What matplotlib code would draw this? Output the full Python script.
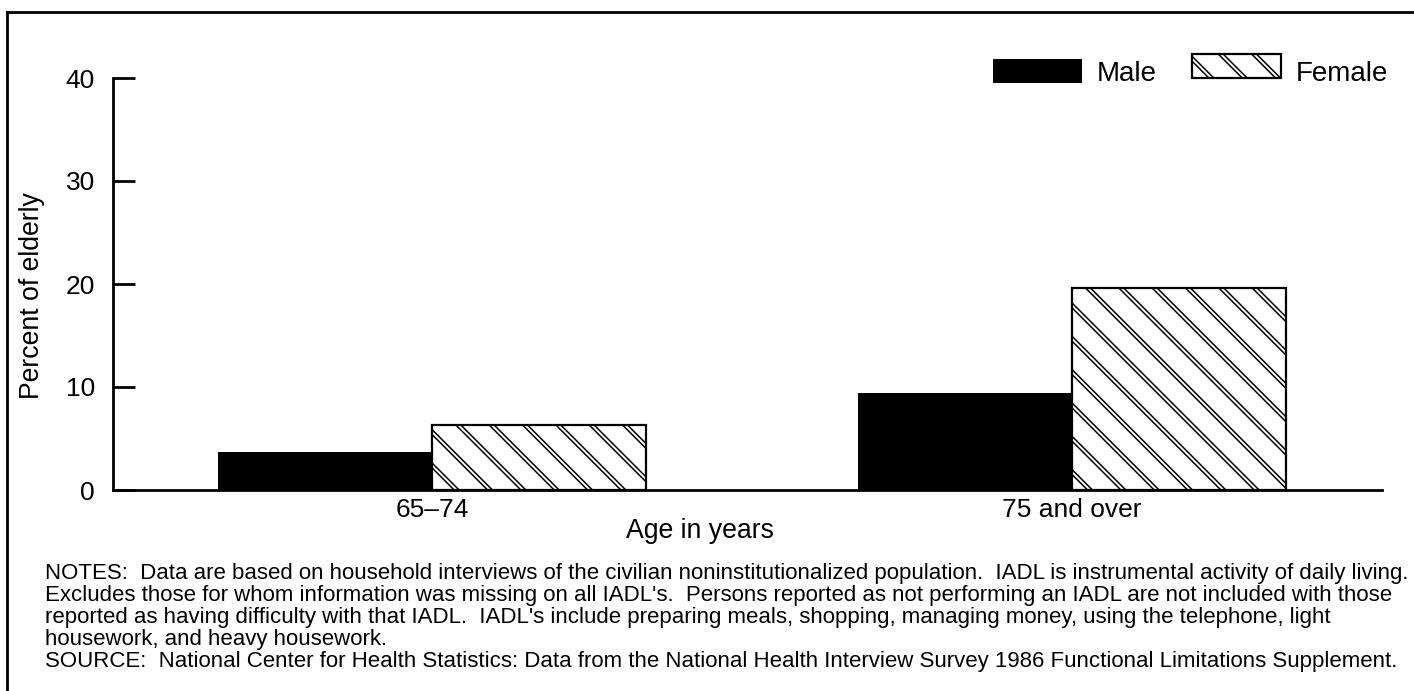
import matplotlib
matplotlib.use("Agg")
import matplotlib.pyplot as plt
from matplotlib.patches import Rectangle, Patch
from matplotlib.lines import Line2D
import numpy as np

# ---- data ----
categories = ["65\u201374", "75 and over"]
series_names = ["Male", "Female"]
male_values = [3.7, 9.4]
female_values = [6.3, 19.6]
y_ticks = [0, 10, 20, 30, 40]

notes_lines = [
    "NOTES:  Data are based on household interviews of the civilian noninstitutionalized population.  IADL is instrumental activity of daily living.",
    "Excludes those for whom information was missing on all IADL's.  Persons reported as not performing an IADL are not included with those",
    "reported as having difficulty with that IADL.  IADL's include preparing meals, shopping, managing money, using the telephone, light",
    "housework, and heavy housework.",
]
source_line = "SOURCE:  National Center for Health Statistics: Data from the National Health Interview Survey 1986 Functional Limitations Supplement."

plt.rcParams['font.family'] = ['Liberation Sans', 'DejaVu Sans']

W, H, DPI = 1414, 691, 200
fig = plt.figure(figsize=(W / DPI, H / DPI), dpi=DPI)

def fx(px):
    return px / W

def fy(py):
    return 1 - py / H

ax = fig.add_axes([fx(113), fy(490), fx(1382) - fx(113), fy(78) - fy(490)])

def set_hlw(p, w):
    if hasattr(p, "set_hatch_linewidth"):
        p.set_hatch_linewidth(w)
    else:
        p._hatch_linewidth = w

BLACK_HLW = 1.8
WHITE_HLW = 0.7
HATCH = "\\\\"

x = np.arange(len(categories))
bw = 0.334

ax.bar(x - bw / 2, male_values, width=bw, color="black", linewidth=0)

b1 = ax.bar(x + bw / 2, female_values, width=bw, facecolor="white",
            edgecolor="black", linewidth=0, hatch=HATCH)
for p in b1:
    set_hlw(p, BLACK_HLW)
b2 = ax.bar(x + bw / 2, female_values, width=bw, facecolor="none",
            edgecolor="white", linewidth=0, hatch=HATCH)
for p in b2:
    set_hlw(p, WHITE_HLW)
ax.bar(x + bw / 2, female_values, width=bw, facecolor="none",
       edgecolor="black", linewidth=0.8)

ax.set_xlim(-0.498, 1.484)
ax.set_ylim(0, 40)
ax.set_yticks(y_ticks)
ax.set_yticklabels([str(v) for v in y_ticks])
ax.set_xticks(x)
ax.set_xticklabels(categories)

for s in ["top", "right"]:
    ax.spines[s].set_visible(False)
for s in ["left", "bottom"]:
    ax.spines[s].set_linewidth(1.0)

ax.tick_params(axis="y", direction="in", length=7.9, width=1.0, pad=6.5,
               labelsize=9.5)
ax.tick_params(axis="x", length=0, pad=3.0, labelsize=9.5)

ax.set_ylabel("Percent of elderly", fontsize=9.6)
ax.yaxis.set_label_coords((45 - 113) / 1269, (490 - 296) / 412)


class DoubleHatchHandler:
    def legend_artist(self, legend, orig_handle, fontsize, handlebox):
        x0, y0 = handlebox.xdescent, handlebox.ydescent
        w, h = handlebox.width, handlebox.height
        tr = handlebox.get_transform()
        r1 = Rectangle((x0, y0), w, h, facecolor="white", edgecolor="black",
                       linewidth=0, hatch=HATCH, transform=tr)
        set_hlw(r1, BLACK_HLW)
        r2 = Rectangle((x0, y0), w, h, facecolor="none", edgecolor="white",
                       linewidth=0, hatch=HATCH, transform=tr)
        set_hlw(r2, WHITE_HLW)
        r3 = Rectangle((x0, y0), w, h, facecolor="none", edgecolor="black",
                       linewidth=0.8, transform=tr)
        for r in (r1, r2, r3):
            handlebox.add_artist(r)
        return r3


male_handle = Patch(facecolor="black", linewidth=0, label=series_names[0])
female_handle = Patch(facecolor="white", edgecolor="black", label=series_names[1])
leg_fs = 10
fig.legend(handles=[male_handle, female_handle], labels=series_names,
           handler_map={female_handle: DoubleHatchHandler()},
           loc="center left", bbox_to_anchor=(fx(993), fy(73)),
           bbox_transform=fig.transFigure, ncol=2, frameon=False,
           fontsize=leg_fs, handlelength=3.2, handleheight=0.97,
           handletextpad=0.54, columnspacing=1.26, borderpad=0,
           borderaxespad=0)

fig.text(fx(700), fy(531), "Age in years", ha="center", va="center",
         fontsize=9.6)

note_fs = 8.0
note_y = [573, 595, 617, 639]
for yy, line in zip(note_y, notes_lines):
    fig.text(fx(45), fy(yy), line, ha="left", va="center", fontsize=note_fs)
fig.text(fx(45), fy(662), source_line, ha="left", va="center", fontsize=note_fs)

# frame lines (top and left)
fig.add_artist(Line2D([fx(7), 1.0], [fy(12), fy(12)], color="black",
                      linewidth=1.0, transform=fig.transFigure))
fig.add_artist(Line2D([fx(7), fx(7)], [fy(12), 0.0], color="black",
                      linewidth=1.0, transform=fig.transFigure))

fig.savefig("out.png", dpi=DPI)
